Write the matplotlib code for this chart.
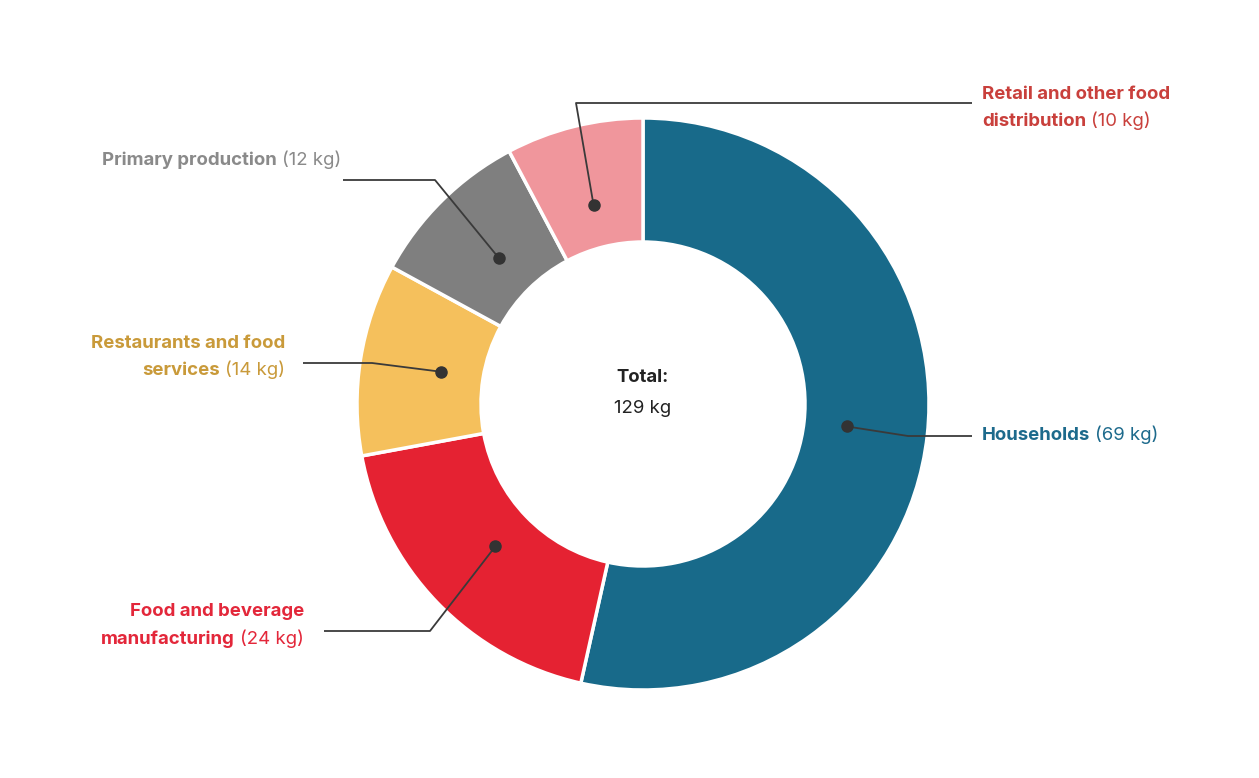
import matplotlib.pyplot as plt
import numpy as np

# ---- data ----
categories = ["Households", "Food and beverage manufacturing", "Restaurants and food services",
              "Primary production", "Retail and other food distribution"]
values = [69, 24, 14, 12, 10]
wedge_colors = ["#186a8a", "#e52232", "#f5c05c", "#7f7f7f", "#f0969c"]
label_colors = ["#1d6a8c", "#e3273a", "#c99a3a", "#8a8a8a", "#c9403c"]
total = sum(values)

# label lines: list of lines, each line a list of (text, bold)
label_lines = [
    [[("Households", True), ("(69 kg)", False)]],
    [[("Food and beverage", True)], [("manufacturing", True), ("(24 kg)", False)]],
    [[("Restaurants and food", True)], [("services", True), ("(14 kg)", False)]],
    [[("Primary production", True), ("(12 kg)", False)]],
    [[("Retail and other food", True)], [("distribution", True), ("(10 kg)", False)]],
]

# layout (pixel coords, y from top)
W, H = 1259, 778
CX, CY = 643, 404
R_OUT, R_IN = 286, 162
R_DOT = 205
# (elbow, line end, label anchor x, label first-line y, align)
layout = [
    ((908, 436), (972, 436), 982, 435, "left"),
    ((430, 631), (324, 631), 304, 612, "right"),
    ((372, 363), (303, 363), 285, 343, "right"),
    ((435, 180), (343, 180), 341, 160, "right"),
    ((576, 103), (972, 103), 982, 94, "left"),
]
LINE_H = 27
FONT = "Inter"
FS = 13.4

fig = plt.figure(figsize=(W / 100, H / 100), dpi=100)
ax = fig.add_axes([0, 0, 1, 1])
ax.set_xlim(0, W)
ax.set_ylim(0, H)
ax.axis("off")

def fy(y):
    return H - y

ax.pie(values, colors=wedge_colors, startangle=90, counterclock=False,
       radius=R_OUT, center=(CX, fy(CY)),
       wedgeprops=dict(width=R_OUT - R_IN, edgecolor="white", linewidth=2.5))
ax.set_xlim(0, W)
ax.set_ylim(0, H)
ax.set_aspect("equal")

ax.text(CX, fy(377), "Total:", ha="center", va="center", fontsize=FS,
        fontweight="bold", family=FONT, color="#222222")
ax.text(CX, fy(408), f"{total} kg", ha="center", va="center", fontsize=FS,
        family=FONT, color="#222222")

renderer = fig.canvas.get_renderer()

def text_width(s, bold):
    t = ax.text(0, 0, s, fontsize=FS, family=FONT,
                fontweight="bold" if bold else "normal")
    w = t.get_window_extent(renderer).width
    t.remove()
    return w

GAP = 5
cum = 0
for i, v in enumerate(values):
    mid = 90 - (cum + v / 2) / total * 360
    cum += v
    dx = CX + R_DOT * np.cos(np.radians(mid))
    dy = CY - R_DOT * np.sin(np.radians(mid))
    elbow, end, lx, ly, align = layout[i]
    ax.plot([dx, elbow[0], end[0]], [fy(dy), fy(elbow[1]), fy(end[1])],
            color="#3a3a3a", lw=1.3, solid_capstyle="butt", zorder=3)
    ax.plot(dx, fy(dy), "o", color="#333333", ms=8, zorder=4)

    for j, line in enumerate(label_lines[i]):
        widths = [text_width(s, b) for s, b in line]
        full = sum(widths) + GAP * (len(line) - 1)
        x = lx if align == "left" else lx - full
        for (s, b), w in zip(line, widths):
            ax.text(x, fy(ly + j * LINE_H), s, ha="left", va="center",
                    fontsize=FS, family=FONT, color=label_colors[i],
                    fontweight="bold" if b else "normal")
            x += w + GAP

fig.savefig("out.png", dpi=100, facecolor="white")
